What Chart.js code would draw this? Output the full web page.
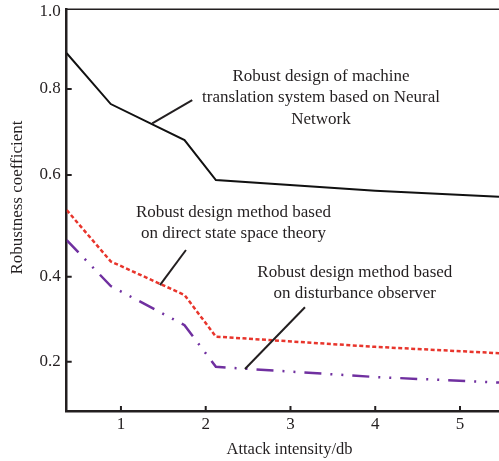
<!DOCTYPE html>
<html><head><meta charset="utf-8">
<script src="https://cdn.jsdelivr.net/npm/chart.js@4.4.0/dist/chart.umd.min.js"></script>
<style>html,body{margin:0;padding:0;background:#fff;} #wrap{width:499px;height:461px;}</style>
</head><body><div id="wrap"><canvas id="c" width="499" height="461"></canvas></div>
<script>
// ---- data ----
const attackIntensity = [0.36, 0.88, 1.75, 2.12, 4.0, 5.46];
const neuralNetworkDesign = [0.893, 0.765, 0.681, 0.590, 0.569, 0.557];
const stateSpaceDesign = [0.531, 0.430, 0.357, 0.259, 0.235, 0.220];
const disturbanceObserverDesign = [0.472, 0.378, 0.286, 0.188, 0.164, 0.151];
const seriesLabels = [
  "Robust design of machine translation system based on Neural Network",
  "Robust design method based on direct state space theory",
  "Robust design method based on disturbance observer"
];
const xTickValues = [1, 2, 3, 4, 5];
const yTickValues = [0.2, 0.4, 0.6, 0.8, 1.0];
const xAxisTitle = "Attack intensity/db";
const yAxisTitle = "Robustness coefficient";
const annotationTexts = [
  ["Robust design of machine", "translation system based on Neural", "Network"],
  ["Robust design method based", "on direct state space theory"],
  ["Robust design method based", "on disturbance observer"]
];

// ---- layout (not data) ----
// the printed y axis is not evenly spaced: value -> fraction of axis height
const Y_SCALE_KNOTS = [[0.084, 0], [0.2, 0.1227], [0.4, 0.3343], [0.6, 0.5875], [0.8, 0.8016], [1.0, 0.9933], [1.007, 1]];
const annotationLayout = [
  {text: [3.36, 0.821], leader: [[1.369, 0.720], [1.841, 0.774]]},
  {text: [2.327, 0.5174], leader: [[1.46, 0.380], [1.767, 0.4525]]},
  {text: [3.759, 0.3993], leader: [[2.463, 0.183], [3.171, 0.328]]}
];
const INK = '#231f20';
const FONT = 'Liberation Serif';

class KnotScale extends Chart.LinearScale {
  static id = 'knot';
  static defaults = Chart.LinearScale.defaults;
  _toDec(v) {
    const k = Y_SCALE_KNOTS;
    let i = 0;
    while (i < k.length - 2 && v > k[i + 1][0]) i++;
    const [v0, d0] = k[i], [v1, d1] = k[i + 1];
    return d0 + (v - v0) / (v1 - v0) * (d1 - d0);
  }
  _fromDec(d) {
    const k = Y_SCALE_KNOTS;
    let i = 0;
    while (i < k.length - 2 && d > k[i + 1][1]) i++;
    const [v0, d0] = k[i], [v1, d1] = k[i + 1];
    return v0 + (d - d0) / (d1 - d0) * (v1 - v0);
  }
  getPixelForValue(value) {
    if (value === null || isNaN(value)) return NaN;
    return this.getPixelForDecimal(this._toDec(value));
  }
  getValueForPixel(pixel) {
    return this._fromDec(this.getDecimalForPixel(pixel));
  }
}
Chart.register(KnotScale);

const pts = ys => attackIntensity.map((x, i) => ({x, y: ys[i]}));

const decorPlugin = {
  id: 'decor',
  afterDatasetsDraw(chart) {
    const {ctx, scales: {x, y}} = chart;
    ctx.save();
    ctx.fillStyle = INK;
    ctx.strokeStyle = INK;
    ctx.lineWidth = 2;
    ctx.font = `17px "${FONT}"`;
    ctx.textAlign = 'center';
    ctx.textBaseline = 'alphabetic';
    annotationLayout.forEach((a, i) => {
      const tx = x.getPixelForValue(a.text[0]);
      const ty = y.getPixelForValue(a.text[1]);
      annotationTexts[i].forEach((line, j) => ctx.fillText(line, tx, ty + j * 21.3));
      ctx.beginPath();
      ctx.moveTo(x.getPixelForValue(a.leader[0][0]), y.getPixelForValue(a.leader[0][1]));
      ctx.lineTo(x.getPixelForValue(a.leader[1][0]), y.getPixelForValue(a.leader[1][1]));
      ctx.stroke();
    });
    ctx.restore();
  },
  afterDraw(chart) {
    const {ctx, chartArea: ca, scales: {x, y}} = chart;
    ctx.save();
    ctx.strokeStyle = INK;
    // top frame line
    ctx.lineWidth = 1.5;
    ctx.beginPath(); ctx.moveTo(ca.left, ca.top); ctx.lineTo(ca.right, ca.top); ctx.stroke();
    // inward tick marks
    ctx.lineWidth = 2;
    ctx.beginPath();
    xTickValues.forEach(v => { const p = x.getPixelForValue(v); ctx.moveTo(p, ca.bottom); ctx.lineTo(p, ca.bottom - 5); });
    yTickValues.filter(v => v < 1).forEach(v => { const p = y.getPixelForValue(v); ctx.moveTo(ca.left, p); ctx.lineTo(ca.left + 5, p); });
    ctx.stroke();
    // axis titles
    ctx.fillStyle = INK;
    ctx.textAlign = 'center';
    ctx.textBaseline = 'alphabetic';
    ctx.font = `16.5px "${FONT}"`;
    ctx.fillText(xAxisTitle, 289.5, 454);
    ctx.save();
    ctx.translate(21.5, 197.5);
    ctx.rotate(-Math.PI / 2);
    ctx.font = `17px "${FONT}"`;
    ctx.fillText(yAxisTitle, 0, 0);
    ctx.restore();
    ctx.restore();
  }
};

Chart.defaults.font.family = FONT;
new Chart(document.getElementById('c'), {
  type: 'line',
  data: {
    datasets: [
      {label: seriesLabels[0], data: pts(neuralNetworkDesign), borderColor: '#111111', borderWidth: 2, pointRadius: 0, tension: 0},
      {label: seriesLabels[1], data: pts(stateSpaceDesign), borderColor: '#e8352c', borderWidth: 2.5, borderDash: [4, 2.5], pointRadius: 0, tension: 0},
      {label: seriesLabels[2], data: pts(disturbanceObserverDesign), borderColor: '#7030a0', borderWidth: 2.5, borderDash: [17, 9, 2, 9, 2, 9], pointRadius: 0, tension: 0}
    ]
  },
  options: {
    responsive: false,
    animation: false,
    events: [],
    layout: {padding: {top: 9.3, right: 0, bottom: 0, left: 0}},
    plugins: {legend: {display: false}, tooltip: {enabled: false}, title: {display: false}},
    scales: {
      x: {
        type: 'linear', min: 0.36, max: 5.46,
        afterBuildTicks: s => { s.ticks = xTickValues.map(v => ({value: v})); },
        afterFit: s => { s.height = 50; s.paddingLeft = 0; s.paddingRight = 0; },
        grid: {display: false, drawTicks: false},
        border: {display: true, color: INK, width: 2.5},
        ticks: {color: INK, font: {size: 17, family: FONT}, padding: 3, callback: v => String(v), maxRotation: 0}
      },
      y: {
        type: 'knot', min: 0.084, max: 1.007,
        afterBuildTicks: s => { s.ticks = yTickValues.map(v => ({value: v})); },
        afterFit: s => { s.width = 66.7; s.paddingTop = 0; s.paddingBottom = 0; },
        grid: {display: false, drawTicks: false},
        border: {display: true, color: INK, width: 2.5},
        ticks: {color: INK, font: {size: 17, family: FONT}, padding: 6, callback: v => Number(v).toFixed(1)}
      }
    }
  },
  plugins: [decorPlugin]
});
</script>
</body></html>
